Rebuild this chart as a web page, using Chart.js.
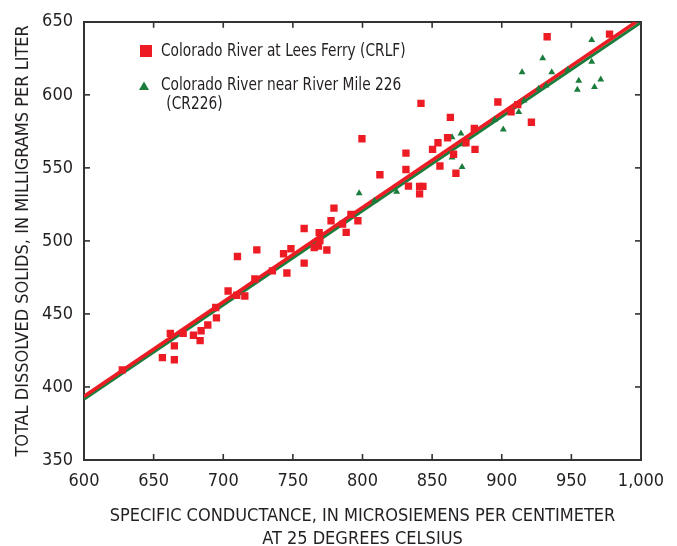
<!DOCTYPE html>
<html>
<head>
<meta charset="utf-8">
<script src="https://cdn.jsdelivr.net/npm/chart.js@4/dist/chart.umd.min.js"></script>
<style>
html,body{margin:0;padding:0;background:#fff;}
#c{display:block;}
</style>
</head>
<body>
<canvas id="c" width="677" height="546"></canvas>
<script>
// ---- Data ----
const crlfSC  = [627.5,656.3,664.9,664.9,662.0,671.2,678.6,683.4,684.1,688.9,695.1,694.6,703.5,709.7,715.5,722.7,735.3,745.7,710.2,724.1,743.3,748.6,758.1,758.1,765.3,768.4,768.9,769.4,774.4,777.4,779.5,785.7,788.3,791.7,796.7,799.6,812.5,831.2,831.2,833.0,841.0,843.4,841.0,842.0,850.3,854.2,855.6,861.1,863.1,865.4,867.1,874.3,880.8,880.3,897.2,906.7,911.5,921.3,932.6,977.4];
const crlfTDS = [411.7,420.1,418.6,428.1,436.7,436.7,435.4,431.7,438.5,442.4,447.3,454.4,465.7,462.8,462.3,473.9,479.5,478.0,489.3,493.9,491.2,494.6,484.8,508.5,495.5,496.5,505.7,500.2,493.8,513.8,522.4,511.5,505.8,518.2,513.8,569.9,545.3,560.1,548.9,537.5,537.3,537.3,532.2,594.2,562.7,567.2,551.3,570.6,584.6,559.3,546.3,567.2,562.7,577.0,595.1,588.3,593.3,581.2,639.8,641.6];
const cr226SC  = [797.6,824.5,808.6,864.3,870.7,864.3,871.9,871.5,901.1,894.8,912.2,914.6,929.4,935.9,964.6,964.6,955.3,954.3,971.1,966.6,926.5,931.8,947.4,916.0];
const cr226TDS = [532.7,533.7,527.5,571.0,573.5,557.1,566.1,550.6,576.3,583.0,588.3,615.5,625.0,615.5,637.5,622.6,609.6,603.5,610.5,605.3,604.2,606.4,617.1,596.2];
const fitSC       = [600, 1000];
const crlfFitTDS  = [393.5, 652.2];
const cr226FitTDS = [391.5, 649.6];
const xTicks      = [600,650,700,750,800,850,900,950,1000];
const xTickLabels = ['600','650','700','750','800','850','900','950','1,000'];
const yTicks      = [350,400,450,500,550,600,650];
const yTickLabels = ['350','400','450','500','550','600','650'];
const seriesNames = ['Colorado River at Lees Ferry (CRLF)', ['Colorado River near River Mile 226', ' (CR226)']];
const xTitle = ['SPECIFIC CONDUCTANCE, IN MICROSIEMENS PER CENTIMETER', 'AT 25 DEGREES CELSIUS'];
const yTitle = 'TOTAL DISSOLVED SOLIDS, IN MILLIGRAMS PER LITER';

// ---- Styles ----
const FONT = "'Liberation Sans Narrow','Arial Narrow','DejaVu Sans Condensed','Roboto Condensed',sans-serif";
const TEXT = '#231f20';
const AXIS = '#333333';
const RED = '#ed1c24';
const GREEN = '#1b7d3c';
const TICK_LEN = 6;

const toPts = (xs, ys) => xs.map((x, i) => ({x: x, y: ys[i]}));

// inward tick marks on all four sides, placed with the chart's own scales
function drawInnerTicks(chart) {
  const ctx = chart.ctx;
  const a = chart.chartArea;
  const sx = chart.scales.x, sy = chart.scales.y;
  ctx.save();
  ctx.fillStyle = AXIS;
  xTicks.forEach(function (v) {
    const px = sx.getPixelForValue(v);
    ctx.fillRect(px - 0.8, a.bottom - TICK_LEN, 1.6, TICK_LEN);
    ctx.fillRect(px - 0.8, a.top, 1.6, TICK_LEN);
  });
  yTicks.forEach(function (v) {
    const py = sy.getPixelForValue(v);
    ctx.fillRect(a.left, py - 0.8, TICK_LEN, 1.6);
    ctx.fillRect(a.right - TICK_LEN, py - 0.8, TICK_LEN, 1.6);
  });
  ctx.restore();
}

function drawLegend(chart) {
  const ctx = chart.ctx;
  ctx.save();
  ctx.fillStyle = RED;
  ctx.fillRect(140, 45, 12, 12);
  ctx.fillStyle = GREEN;
  ctx.beginPath();
  ctx.moveTo(144, 81.5);
  ctx.lineTo(149, 90);
  ctx.lineTo(139, 90);
  ctx.closePath();
  ctx.fill();
  ctx.font = '18px ' + FONT;
  ctx.fillStyle = TEXT;
  ctx.textBaseline = 'middle';
  ctx.textAlign = 'left';
  const k = 0.85;
  ctx.translate(161, 0);
  ctx.scale(k, 1);
  ctx.fillText(seriesNames[0], 0, 51);
  ctx.fillText(seriesNames[1][0], 0, 85);
  ctx.fillText(seriesNames[1][1], 1 / k, 104);
  ctx.restore();
}

const overlayPlugin = {
  id: 'overlay',
  afterDraw(chart) {
    drawLegend(chart);
    drawInnerTicks(chart);
  }
};

const tickSetter = (vals) => (s) => { s.ticks = vals.map(v => ({value: v})); };

new Chart(document.getElementById('c'), {
  type: 'scatter',
  data: {
    datasets: [
      {label: 'CRLF', data: toPts(crlfSC, crlfTDS), pointStyle: 'rect', pointRadius: 5.2, pointBackgroundColor: RED, pointBorderWidth: 0, borderColor: RED},
      {label: 'CR226', data: toPts(cr226SC, cr226TDS), pointStyle: 'triangle', pointRadius: 4, pointBackgroundColor: GREEN, pointBorderWidth: 0, borderColor: GREEN},
      {type: 'line', label: 'CRLF fit', data: toPts(fitSC, crlfFitTDS), borderColor: RED, borderWidth: 3.5, pointRadius: 0, clip: 0},
      {type: 'line', label: 'CR226 fit', data: toPts(fitSC, cr226FitTDS), borderColor: GREEN, borderWidth: 3, pointRadius: 0, clip: 0}
    ]
  },
  options: {
    responsive: false,
    animation: false,
    devicePixelRatio: 1,
    layout: {padding: {left: 0, top: 18.2, right: 36, bottom: 0}},
    plugins: {legend: {display: false}, tooltip: {enabled: false}},
    scales: {
      x: {
        type: 'linear', position: 'bottom', min: 600, max: 1000,
        afterBuildTicks: tickSetter(xTicks),
        afterFit: s => { s.height = 86; },
        border: {display: true, color: AXIS, width: 2},
        grid: {display: false, drawOnChartArea: false, drawTicks: false},
        ticks: {padding: 11, color: TEXT, font: {family: FONT, size: 18}, maxRotation: 0, autoSkip: false,
                callback: (v, i) => xTickLabels[i]},
        title: {display: true, text: xTitle, color: TEXT, font: {family: FONT, size: 18, lineHeight: '23px'}, padding: {top: 0, bottom: -5}}
      },
      x2: {
        type: 'linear', position: 'top', min: 600, max: 1000,
        afterBuildTicks: tickSetter(xTicks),
        afterFit: s => { s.height = 0; },
        border: {display: true, color: AXIS, width: 2},
        grid: {display: false, drawOnChartArea: false, drawTicks: false},
        ticks: {display: false}
      },
      y: {
        type: 'linear', position: 'left', min: 350, max: 650,
        afterBuildTicks: tickSetter(yTicks),
        afterFit: s => { s.width = 84; },
        border: {display: true, color: AXIS, width: 2},
        grid: {display: false, drawOnChartArea: false, drawTicks: false},
        ticks: {padding: 11, color: TEXT, font: {family: FONT, size: 18}, autoSkip: false,
                callback: (v, i) => yTickLabels[i]},
        title: {display: true, text: yTitle, color: TEXT, font: {family: FONT, size: 18, lineHeight: '20px'}, padding: {top: 13, bottom: 0}}
      },
      y2: {
        type: 'linear', position: 'right', min: 350, max: 650,
        afterBuildTicks: tickSetter(yTicks),
        afterFit: s => { s.width = 0; },
        border: {display: true, color: AXIS, width: 2},
        grid: {display: false, drawOnChartArea: false, drawTicks: false},
        ticks: {display: false}
      }
    }
  },
  plugins: [overlayPlugin]
});
</script>
</body>
</html>
